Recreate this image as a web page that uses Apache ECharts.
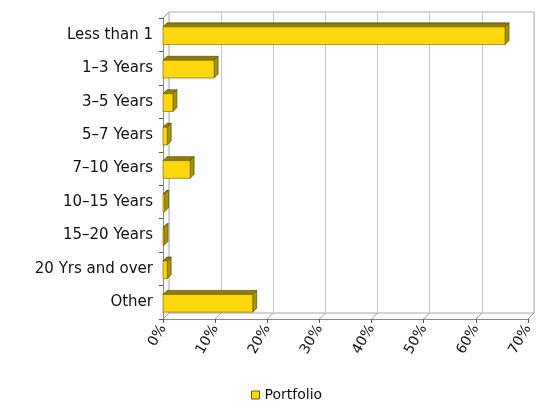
<!DOCTYPE html>
<html><head><meta charset="utf-8">
<script src="https://cdn.jsdelivr.net/npm/echarts@6/dist/echarts.min.js"></script>
<style>html,body{margin:0;padding:0;background:#fff}#c{width:538px;height:412px}</style>
</head><body><div id="c"></div>
<script>
var categories = ['Less than 1','1\u20133 Years','3\u20135 Years','5\u20137 Years','7\u201310 Years','10\u201315 Years','15\u201320 Years','20 Yrs and over','Other'];
var portfolio = [0.656, 0.098, 0.019, 0.008, 0.052, 0.003, 0.002, 0.008, 0.172];
var xTicks = [0, 0.1, 0.2, 0.3, 0.4, 0.5, 0.6, 0.7];
var seriesName = 'Portfolio';

var D = 6;
var chart = echarts.init(document.getElementById('c'), null, {renderer:'canvas'});
var font = 'DejaVu Sans';
var barData = portfolio.map(function(v,i){return [v,i];});
chart.setOption({
  animation:false,
  textStyle:{fontFamily:font},
  grid:[
    {left:163, top:18, width:365, height:301},
    {left:163+D, top:18-D, width:365, height:301, show:true, borderColor:'#aaa', borderWidth:1, backgroundColor:'transparent'}
  ],
  xAxis:[
    {gridIndex:0, type:'value', min:0, max:0.7, interval:0.1,
     axisLine:{show:true, lineStyle:{color:'#888'}},
     axisTick:{show:true, length:4, lineStyle:{color:'#555'}},
     splitLine:{show:false},
     axisLabel:{rotate:60, fontSize:14, color:'#111', margin:7, fontFamily:font,
       formatter:function(v){return Math.round(v*100)+'%';}}},
    {gridIndex:1, type:'value', min:0, max:0.7, interval:0.1,
     axisLine:{show:false}, axisTick:{show:false}, axisLabel:{show:false},
     splitLine:{show:true, lineStyle:{color:'#c8c8c8', width:1}}}
  ],
  yAxis:[
    {gridIndex:0, type:'category', data:categories, inverse:true,
     axisLine:{show:true, lineStyle:{color:'#888'}},
     axisTick:{show:true, length:4, lineStyle:{color:'#555'}},
     axisLabel:{fontSize:15, color:'#111', margin:10, fontFamily:font}},
    {gridIndex:1, type:'category', data:categories, inverse:true,
     axisLine:{show:false}, axisTick:{show:false}, axisLabel:{show:false}, splitLine:{show:false}}
  ],
  legend:{
    bottom:5, left:246, data:[{name:seriesName, icon:'rect'}],
    itemWidth:8, itemHeight:8, itemGap:3,
    textStyle:{fontSize:14, color:'#111', fontFamily:font},
    itemStyle:{borderColor:'#6a5c00', borderWidth:1}
  },
  series:[
    {
      type:'custom', name:'floor', xAxisIndex:0, yAxisIndex:0, silent:true,
      data:xTicks.map(function(t){return [t];}),
      encode:{x:0},
      renderItem:function(params, api){
        var cs = params.coordSys;
        var x = api.coord([api.value(0), 0])[0];
        var yb = cs.y + cs.height;
        var yt = cs.y;
        return {type:'group', children:[
          {type:'line', shape:{x1:x, y1:yb, x2:x+D, y2:yb-D}, style:{stroke:'#999', lineWidth:1}},
          {type:'line', shape:{x1:cs.x, y1:yt, x2:cs.x+D, y2:yt-D}, style:{stroke:'#999', lineWidth:1}}
        ]};
      },
      z:1
    },
    {
      type:'custom', name:seriesName, xAxisIndex:0, yAxisIndex:0,
      itemStyle:{color:'#FCD80C'},
      data:barData,
      encode:{x:0, y:1},
      renderItem:function(params, api){
        var v = api.value(0), c = api.value(1);
        var p0 = api.coord([0, c]);
        var p1 = api.coord([v, c]);
        var bh = api.size([0,1])[1]*0.53;
        var x0 = p0[0], x1 = p1[0];
        var y0 = p0[1]-bh/2+1, y1 = y0+bh;
        var d = 4;
        return {type:'group', children:[
          {type:'polygon', shape:{points:[[x0,y0],[x1,y0],[x1+d,y0-d],[x0+d,y0-d]]},
            style:{fill:'#8f7d00', stroke:'#4a4000', lineWidth:0.6}},
          {type:'polygon', shape:{points:[[x1,y0],[x1+d,y0-d],[x1+d,y1-d],[x1,y1]]},
            style:{fill:'#a89300', stroke:'#4a4000', lineWidth:0.6}},
          {type:'rect', shape:{x:x0, y:y0, width:x1-x0, height:bh},
            style:{fill:'#FCD80C', stroke:'#6a5c00', lineWidth:0.6}}
        ]};
      },
      z:3
    }
  ]
});
</script></body></html>
